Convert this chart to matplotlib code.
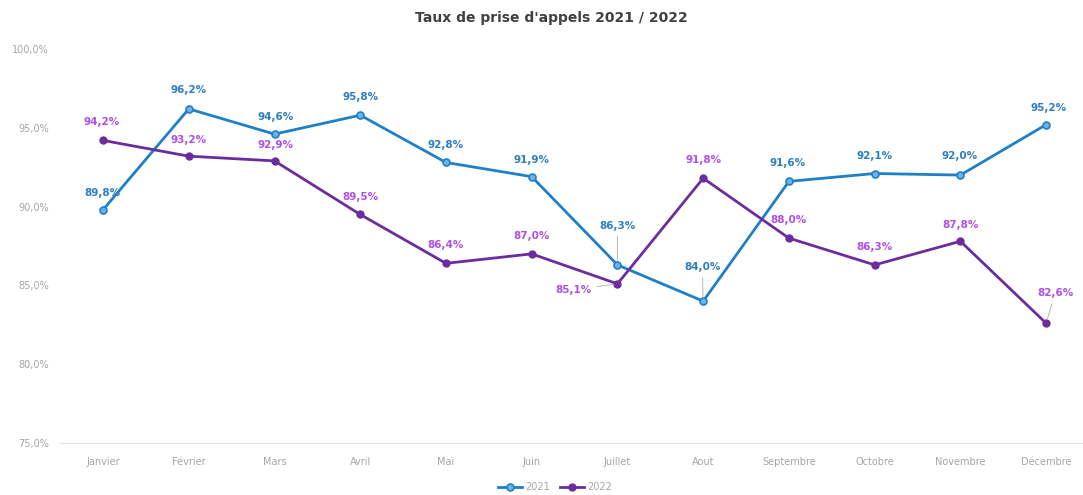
import matplotlib
matplotlib.use("Agg")
import matplotlib.pyplot as plt

# ── Data ──────────────────────────────────────────────────────────
months = ["Janvier", "Février", "Mars", "Avril", "Mai", "Juin", "Juillet",
          "Aout", "Septembre", "Octobre", "Novembre", "Décembre"]
taux_2021 = [89.8, 96.2, 94.6, 95.8, 92.8, 91.9, 86.3, 84.0, 91.6, 92.1, 92.0, 95.2]
taux_2022 = [94.2, 93.2, 92.9, 89.5, 86.4, 87.0, 85.1, 91.8, 88.0, 86.3, 87.8, 82.6]
y_ticks = [75, 80, 85, 90, 95, 100]

# label offsets in pixels (dx, dy), leader lines where the label sits far away
off_2021 = [(-1, 17), (0, 19), (1, 17), (0, 18), (0, 17), (0, 17),
            (0, 39), (-1, 34), (-1, 18), (0, 18), (-1, 19), (2, 17)]
off_2022 = [(-1, 18), (0, 16), (1, 16), (0, 17), (0, 18), (0, 18),
            (-44, -6), (0, 18), (0, 18), (0, 18), (0, 16), (9, 30)]

BLUE = "#1f80c8"
BLUE_TXT = "#2f7fbf"
PURPLE = "#6b2d9e"
PURPLE_TXT = "#b050e8"
GREY = "#a6a6a6"

fig = plt.figure(figsize=(10.83, 4.95), dpi=100)
ax = fig.add_axes([60 / 1083, 1 - 443 / 495, 1023 / 1083, 394 / 495])
x = list(range(len(months)))

ax.plot(x, taux_2021, color=BLUE, lw=2.0, marker="o", ms=5,
        mfc="#6fb3e6", mec=BLUE, mew=1.2, label="2021", zorder=3)
ax.plot(x, taux_2022, color=PURPLE, lw=2.0, marker="o", ms=5,
        mfc=PURPLE, mec=PURPLE, label="2022", zorder=3)


def put_labels(values, offsets, color):
    for i, (v, (dx, dy)) in enumerate(zip(values, offsets)):
        far = abs(dx) > 20 or dy > 25
        arrow = dict(arrowstyle="-", color="#bfbfbf", lw=0.8, shrinkA=2, shrinkB=3) if far else None
        ax.annotate(f"{v:.1f}%".replace(".", ","), (i, v), xytext=(dx, dy),
                    textcoords="offset pixels", ha="center", va="center",
                    fontsize=7.5, fontweight="bold", color=color,
                    arrowprops=arrow, zorder=4)


put_labels(taux_2021, off_2021, BLUE_TXT)
put_labels(taux_2022, off_2022, PURPLE_TXT)

ax.set_ylim(75, 100)
ax.set_xlim(-0.502, 11.43)
ax.set_yticks(y_ticks)
ax.set_yticklabels([f"{t:.1f}%".replace(".", ",") for t in y_ticks])
ax.set_xticks(x)
ax.set_xticklabels(months)
ax.tick_params(axis="both", length=0, labelsize=7, labelcolor=GREY)
ax.tick_params(axis="x", pad=10)
ax.tick_params(axis="y", pad=8)
for side in ["top", "right", "left"]:
    ax.spines[side].set_visible(False)
ax.spines["bottom"].set_color("#e6e6e6")

fig.text(551 / 1083, 1 - 18 / 495, "Taux de prise d'appels 2021 / 2022",
         ha="center", va="center", fontsize=10, fontweight="bold", color="#404040")

fig.legend(loc="center", bbox_to_anchor=(555 / 1083, 1 - 487 / 495), ncol=2,
           frameon=False, fontsize=7, labelcolor=GREY, handlelength=2.5,
           columnspacing=1.0, handletextpad=0.3)

fig.savefig("out.png", dpi=100)
